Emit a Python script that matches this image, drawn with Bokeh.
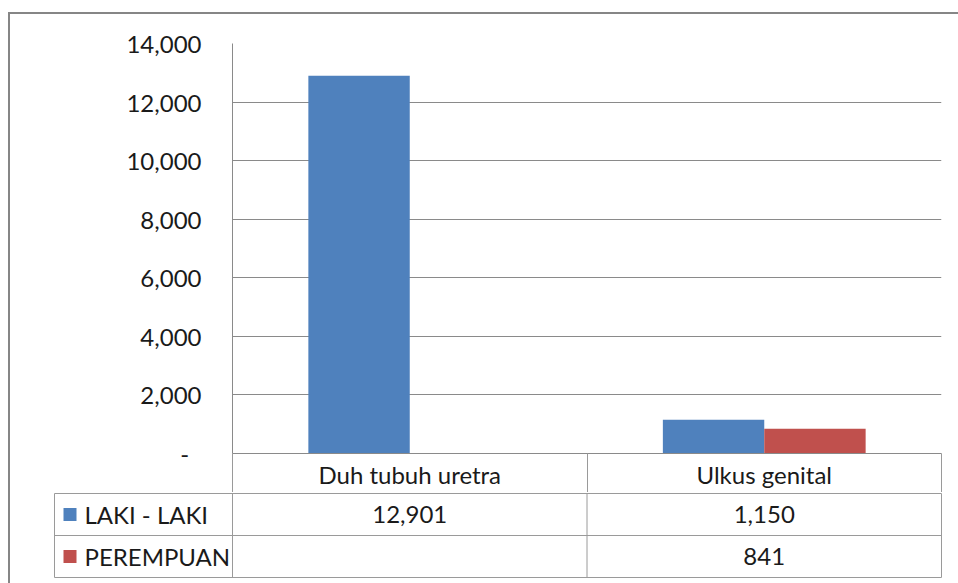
from bokeh.plotting import figure
from bokeh.models import ColumnDataSource, Range1d, FixedTicker, NumeralTickFormatter, Spacer
from bokeh.layouts import column, row
from bokeh.core.properties import value
from bokeh.embed import file_html
from bokeh.resources import INLINE

# ---- data ----
categories = ["Duh tubuh uretra", "Ulkus genital"]
series_names = ["LAKI - LAKI", "PEREMPUAN"]
laki_laki = [12901, 1150]
perempuan = [None, 841]
series_colors = ["#4F81BD", "#C0504D"]
y_ticks = [0, 2000, 4000, 6000, 8000, 10000, 12000, 14000]
y_max = 14000

# ---- style ----
FONT = "Lato"
FS = "24px"
TEXT = "#1a1a1a"
GRID = "#8a8a8a"
TABLE = "#9a9a9a"
BORDER = "#868686"

series_values = [laki_laki, perempuan]
n = len(categories)
ns = len(series_names)
bar_w = 0.286
centers = [i + 0.5 for i in range(n)]

W = 948
UNIT = 354.5      # px per category
LEFT = 222        # frame left offset in canvas
ROW = 42          # px per table row
HDR = 39          # header row height below the chart frame

# ---- chart figure ----
p = figure(width=W, height=478, x_range=Range1d(0, n), y_range=Range1d(0, y_max),
           output_backend="svg", toolbar_location=None, tools="",
           min_border_left=LEFT, min_border_right=17, min_border_top=29, min_border_bottom=HDR)
p.outline_line_color = None
p.background_fill_color = "white"
p.border_fill_color = "white"

for j, (vals, col) in enumerate(zip(series_values, series_colors)):
    xs = [c + (j - (ns - 1) / 2) * bar_w for c in centers]
    tops = [float("nan") if v is None else v for v in vals]
    src = ColumnDataSource(dict(x=xs, top=tops))
    p.vbar(x="x", top="top", width=bar_w, source=src, fill_color=col, line_color=None)

yax = p.yaxis[0]
yax.ticker = FixedTicker(ticks=y_ticks)
yax.formatter = NumeralTickFormatter(format="0,0")
yax.major_label_overrides = {0: "-\u00a0\u00a0"}
yax.major_tick_out = 0
yax.major_tick_in = 0
yax.minor_tick_out = 0
yax.minor_tick_in = 0
yax.minor_tick_line_color = None
yax.major_tick_line_color = None
yax.axis_line_color = GRID
yax.major_label_standoff = 31
yax.major_label_text_font = FONT
yax.major_label_text_font_size = FS
yax.major_label_text_color = TEXT

p.ygrid.ticker = yax.ticker
p.ygrid.grid_line_color = GRID
p.xgrid.visible = False

xax = p.xaxis[0]
xax.ticker = FixedTicker(ticks=centers, minor_ticks=list(range(n + 1)))
xax.major_label_overrides = {c: cat for c, cat in zip(centers, categories)}
xax.major_tick_out = 0
xax.major_tick_in = 0
xax.major_tick_line_color = None
xax.minor_tick_out = HDR
xax.minor_tick_in = 0
xax.minor_tick_line_color = TABLE
xax.axis_line_color = GRID
xax.major_label_standoff = -33
xax.major_label_text_font = FONT
xax.major_label_text_font_size = FS
xax.major_label_text_color = TEXT

# ---- data table figure ----
legend_w = 178 / UNIT
t = figure(width=W, height=91,
           x_range=Range1d(-LEFT / UNIT, (W - LEFT) / UNIT),
           y_range=Range1d(-6 / ROW, ns + 1 / ROW),
           output_backend="svg", toolbar_location=None, tools="",
           min_border=0, x_axis_location=None, y_axis_location=None)
t.outline_line_color = None
t.grid.visible = False

row_y = [ns - j - 0.5 for j in range(ns)]
h_y = list(range(ns + 1))
t.segment(x0=-legend_w, x1=n, y0=h_y, y1=h_y, line_color=TABLE, line_width=1)
v_x = [-legend_w] + list(range(n + 1))
t.segment(x0=v_x, x1=v_x, y0=0, y1=ns, line_color=TABLE, line_width=1)

tx, ty, tt = [], [], []
for j, vals in enumerate(series_values):
    for i, v in enumerate(vals):
        tx.append(centers[i])
        ty.append(row_y[j])
        tt.append("" if v is None else f"{v:,}")
t.text(x=tx, y=ty, text=tt, text_align="center", text_baseline="middle",
       text_font=value(FONT), text_font_size=FS, text_color=TEXT)

t.text(x=[-legend_w] * ns, y=row_y, text=series_names, x_offset=30,
       text_align="left", text_baseline="middle",
       text_font=value(FONT), text_font_size=FS, text_color=TEXT)
t.rect(x=[-legend_w + 15.5 / UNIT] * ns, y=row_y, width=13, height=13,
       width_units="screen", height_units="screen",
       fill_color=series_colors, line_color=None)

# ---- outer frame + layout (two roots so the frames are not aligned) ----
top_root = column(
    Spacer(width=958, height=12),
    row(Spacer(width=8, height=2), Spacer(width=950, height=2, styles={"background-color": BORDER})),
    row(Spacer(width=8, height=478), Spacer(width=2, height=478, styles={"background-color": BORDER}), p),
)
bottom_root = row(Spacer(width=8, height=91),
                  Spacer(width=2, height=91, styles={"background-color": BORDER}), t)

open("out.html", "w").write(file_html([top_root, bottom_root], INLINE))
